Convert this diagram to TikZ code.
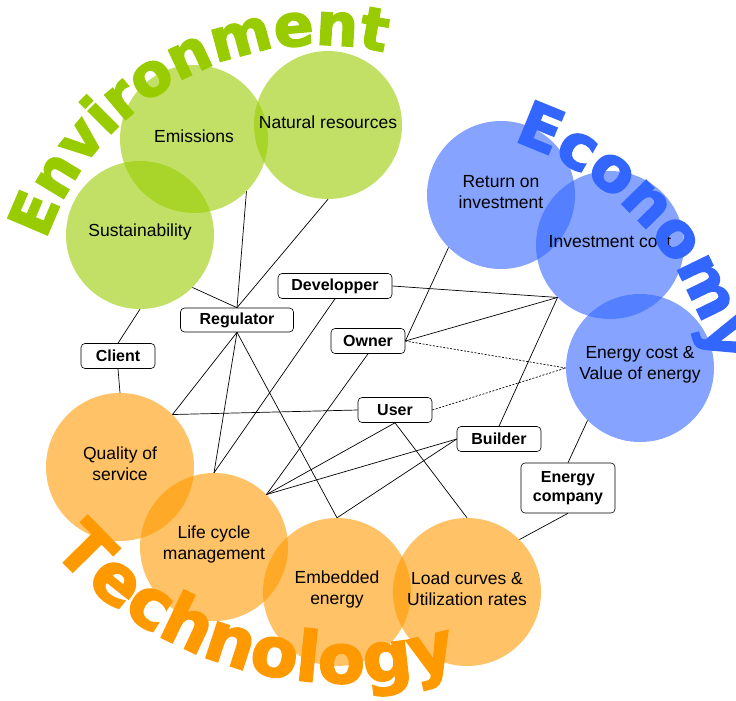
\documentclass[tikz,border=0pt]{standalone}
\usepackage{fontspec}
\setmainfont{Liberation Sans}
\newfontfamily\bigfont[FakeBold=2.5]{DejaVu Sans Bold}
\usetikzlibrary{decorations.text}
\definecolor{envg}{HTML}{99CC00}
\definecolor{ecob}{HTML}{3366FF}
\definecolor{teco}{HTML}{FF9900}
\begin{document}
\begin{tikzpicture}[x=1pt,y=-1pt,
  bub/.style={circle, minimum size=148pt, inner sep=0pt, fill opacity=0.6},
  envbub/.style={bub, fill=envg},
  ecobub/.style={bub, fill=ecob},
  tecbub/.style={bub, fill=teco},
  ctext/.style={align=center, font=\fontsize{17.5}{21}\selectfont, inner sep=0pt},
  actor/.style={draw, rounded corners=4pt, fill=white, font=\bfseries\fontsize{16}{19}\selectfont, minimum height=25pt, inner sep=2pt, align=center, line width=0.6pt},
  link/.style={line width=0.7pt},
  dlink/.style={link, dash pattern=on 2pt off 1.5pt}
]
\useasboundingbox (0,0) rectangle (736,701);
% circles
\node[envbub] (emis) at (194,139) {};
\node[envbub] (nat) at (328,125) {};
\node[envbub] (sus) at (140,235) {};
\node[ecobub] (roi) at (501,195) {};
\node[ecobub] (inv) at (610,245) {};
\node[ecobub] (ecost) at (640,368) {};
\node[tecbub] (qos) at (120,467) {};
\node[tecbub] (lcm) at (214,547) {};
\node[tecbub] (emb) at (337,592) {};
\node[tecbub] (load) at (467,592) {};
% circle texts
\node[ctext] (emisT) at ([yshift=3pt]emis.center) {Emissions};
\node[ctext] (natT) at ([yshift=3pt]nat.center) {Natural resources};
\node[ctext] (susT) at ([yshift=3pt]sus.center) {Sustainability};
\node[ctext] (roiT) at ([yshift=3pt]roi.center) {Return on\\investment};
\node[ctext] (invT) at ([yshift=3pt]inv.center) {Investment cost};
\node[ctext] (ecostT) at ([yshift=3pt]ecost.center) {Energy cost \&\\Value of energy};
\node[ctext] (qosT) at ([yshift=3pt]qos.center) {Quality of\\service};
\node[ctext] (lcmT) at ([yshift=3pt]lcm.center) {Life cycle\\management};
\node[ctext] (embT) at ([yshift=3pt]emb.center) {Embedded\\energy};
\node[ctext] (loadT) at ([yshift=3pt]load.center) {Load curves \&\\Utilization rates};
% actors
\node[actor, minimum width=114pt] (dev) at (335,286) {Developper};
\node[actor, minimum width=113pt, minimum height=24pt] (reg) at (237,320) {Regulator};
\node[actor, minimum width=74pt] (cli) at (118,356) {Client};
\node[actor, minimum width=74pt] (own) at (368,341) {Owner};
\node[actor, minimum width=74pt] (usr) at (395,410) {User};
\node[actor, minimum width=84pt] (bld) at (499,439) {Builder};
\node[actor, minimum width=94pt, minimum height=50pt] (eco) at (568,488) {Energy\\company};
% connectors
\draw[link] (emis.-45) -- (reg.north);
\draw[link] (nat.south) -- (reg.north);
\draw[link] (sus.-45) -- (reg.north);
\draw[link] (sus.south) -- (cli.north);
\draw[link] (cli.south) -- (qos.north);
\draw[link] (reg.south) -- (qos.45);
\draw[link] (reg.south) -- (lcm.north);
\draw[link] (reg.south) -- (emb.north);
\draw[link] (qos.45) -- (usr.west);
\draw[link] (dev.south) -- (lcm.north);
\draw[link] (own.south) -- (lcm.45);
\draw[link] (usr.south) -- (lcm.45);
\draw[link] (usr.south) -- (load.north);
\draw[link] (bld.west) -- (lcm.45);
\draw[link] (bld.west) -- (emb.north);
\draw[link] (bld.north) -- (inv.-135);
\draw[link] (dev.east) -- (inv.-135);
\draw[link] (own.east) -- (inv.-135);
\draw[link] (own.east) -- (roi.-135);
\draw[dlink] (own.east) -- (ecost.west);
\draw[dlink] (usr.east) -- (ecost.west);
\draw[link] (ecost.-135) -- (eco.north);
\draw[link] (eco.south) -- (load.45);
% big words
\coordinate (envc) at (320,335);
\coordinate (ecoc) at (419,427);
\coordinate (tecc) at (345,294);
\path[decorate, decoration={text along path, text align=center, text color=envg,
  text={|\bigfont\fontsize{59}{61}\selectfont|Environment}}]
  ([shift={(188:290)}]envc) arc[start angle=188, end angle=294, radius=290];
\path[decorate, decoration={text along path, text align=center, text color=ecob,
  text={|\bigfont\fontsize{62}{64}\selectfont|Economy}}]
  ([shift={(-100:301)}]ecoc) arc[start angle=-100, end angle=16, radius=301];
\path[decorate, decoration={text along path, text align=center, text color=teco,
  text={|\bigfont\fontsize{69}{71}\selectfont|Technology}}]
  ([shift={(161:389)}]tecc) arc[start angle=161, end angle=51, radius=389];
\end{tikzpicture}
\end{document}
